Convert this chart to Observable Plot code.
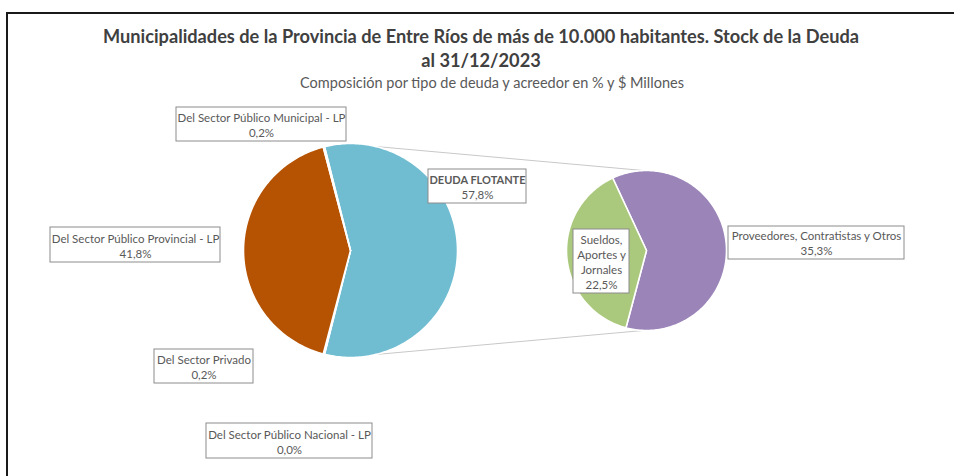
<!DOCTYPE html>
<html>
<head>
<meta charset="utf-8">
<script src="https://cdn.jsdelivr.net/npm/d3@7"></script>
<script src="https://cdn.jsdelivr.net/npm/@observablehq/plot@0.6"></script>
<style>
  html, body { margin: 0; padding: 0; background: #fff; }
  #wrap { position: relative; width: 954px; height: 476px; overflow: hidden; font-family: Lato, "Noto Sans", sans-serif; }
  #frame { position: absolute; left: 6px; top: 12px; width: 1200px; height: 1200px; border-left: 2px solid #1a1a1a; border-top: 2px solid #1a1a1a; }
  #title { position: absolute; left: 0; top: 25px; width: 962px; text-align: center; color: #404040; font-weight: bold; font-size: 18.2px; line-height: 23.5px; }
  #subtitle { position: absolute; left: 0; top: 74px; width: 984px; text-align: center; color: #595959; font-size: 14.5px; line-height: 18px; }
  #chart { position: absolute; left: 0; top: 95px; }
</style>
</head>
<body>
<div id="wrap">
  <div id="frame"></div>
  <div id="title">Municipalidades de la Provincia de Entre Ríos de más de 10.000 habitantes. Stock de la Deuda<br>al 31/12/2023</div>
  <div id="subtitle">Composición por tipo de deuda y acreedor en % y $ Millones</div>
  <div id="chart"></div>
</div>
<script>
// ---- DATA ----
const mainCategories = [
  "DEUDA FLOTANTE",
  "Del Sector Privado",
  "Del Sector Público Nacional - LP",
  "Del Sector Público Provincial - LP",
  "Del Sector Público Municipal - LP"
];
const mainShares = [57.8, 0.2, 0.0, 41.8, 0.2];
const subCategories = ["Proveedores, Contratistas y Otros", "Sueldos, Aportes y Jornales"];
const subShares = [35.3, 22.5];

// ---- LAYOUT / STYLE ----
const W = 954, H = 476, TOP = 95;
const mainPie = {cx: 350, cy: 250, r: 107, start: 90 - (mainShares[0] * 3.6) / 2};
const subPie = {cx: 646, cy: 250, r: 80, start: -25};
const colors = {
  "DEUDA FLOTANTE": "#70bdd2",
  "Del Sector Privado": "#8fa8c8",
  "Del Sector Público Nacional - LP": "#d99694",
  "Del Sector Público Provincial - LP": "#b55303",
  "Del Sector Público Municipal - LP": "#f2c185",
  "Proveedores, Contratistas y Otros": "#9a84b8",
  "Sueldos, Aportes y Jornales": "#abc97c"
};
const labelBoxes = {
  "Del Sector Público Municipal - LP": {x1: 176, x2: 346, y1: 107, y2: 141},
  "Del Sector Público Provincial - LP": {x1: 50, x2: 220, y1: 227, y2: 262},
  "Del Sector Privado": {x1: 154, x2: 253, y1: 349, y2: 383},
  "Del Sector Público Nacional - LP": {x1: 206, x2: 372, y1: 423, y2: 458},
  "DEUDA FLOTANTE": {x1: 428, x2: 526, y1: 169, y2: 203, bold: true},
  "Sueldos, Aportes y Jornales": {x1: 573, x2: 629, y1: 229, y2: 293, wrap: true},
  "Proveedores, Contratistas y Otros": {x1: 728, x2: 904, y1: 226, y2: 259}
};
const LINE = 15;

const locale = d3.formatLocale({decimal: ",", thousands: ".", grouping: [3], currency: ["$", ""]});
const pct = v => locale.format(".1f")(v) + "%";
const rad = d => d * Math.PI / 180;

function pieRows(names, values, pie) {
  const arcs = d3.pie().sort(null).value(d => d.v)
    .startAngle(rad(pie.start)).endAngle(rad(pie.start) + 2 * Math.PI)(names.map((n, i) => ({n, v: values[i]})));
  const rows = [];
  for (const a of arcs) {
    const name = a.data.n;
    rows.push({name, px: pie.cx, py: pie.cy});
    const n = Math.max(2, Math.ceil((a.endAngle - a.startAngle) / rad(1)));
    for (let k = 0; k <= n; k++) {
      const t = a.startAngle + (a.endAngle - a.startAngle) * k / n;
      rows.push({name, px: pie.cx + pie.r * Math.sin(t), py: pie.cy - pie.r * Math.cos(t)});
    }
    rows.push({name, px: pie.cx, py: pie.cy});
  }
  return rows;
}
const slices = [...pieRows(mainCategories, mainShares, mainPie), ...pieRows(subCategories, subShares, subPie)];

const pt = (pie, deg) => ({x: pie.cx + pie.r * Math.sin(rad(deg)), y: pie.cy - pie.r * Math.cos(rad(deg))});
const connectors = [
  {a: pt(mainPie, 13.5), b: pt(subPie, -2)},
  {a: pt(mainPie, 166.5), b: pt(subPie, 182)}
];

const labels = [
  ...mainCategories.map((n, i) => ({name: n, value: mainShares[i]})),
  ...subCategories.map((n, i) => ({name: n, value: subShares[i]}))
].map(d => {
  const b = labelBoxes[d.name];
  return {...d, ...b, cx: (b.x1 + b.x2) / 2, valueBase: b.y2 - 5, nameBase: b.y2 - 5 - LINE};
});

const txt = {fill: "#595959", fontSize: 11.5, fontFamily: "Lato, 'Noto Sans', sans-serif", lineHeight: LINE / 11.5};

const chart = Plot.plot({
  width: W, height: H - TOP,
  margin: 0,
  x: {type: "linear", domain: [0, W], range: [0, W], axis: null},
  y: {type: "linear", domain: [TOP, H], range: [0, H - TOP], axis: null},
  color: {domain: Object.keys(colors), range: Object.values(colors)},
  marks: [
    Plot.link(connectors, {x1: d => d.a.x, y1: d => d.a.y, x2: d => d.b.x, y2: d => d.b.y, stroke: "#c8c8c8", strokeWidth: 1}),
    Plot.line(slices, {x: "px", y: "py", z: "name", fill: "name", stroke: "white", strokeWidth: 1.6, strokeLinejoin: "round"}),
    Plot.rect(labels, {x1: "x1", x2: "x2", y1: "y1", y2: "y2", fill: "white", stroke: "#8c8c8c", strokeWidth: 1}),
    Plot.text(labels.filter(d => !d.bold && !d.wrap), {x: "cx", y: "nameBase", text: "name", lineAnchor: "bottom", ...txt}),
    Plot.text(labels.filter(d => d.bold), {x: "cx", y: "nameBase", text: "name", lineAnchor: "bottom", ...txt, fontSize: 11, fontWeight: "bold"}),
    Plot.text(labels.filter(d => d.wrap), {x: "cx", y: "nameBase", text: "name", lineAnchor: "bottom", lineWidth: 5.6, ...txt}),
    Plot.text(labels, {x: "cx", y: "valueBase", text: d => pct(d.value), lineAnchor: "bottom", ...txt})
  ]
});
document.getElementById("chart").appendChild(chart);
</script>
</body>
</html>
